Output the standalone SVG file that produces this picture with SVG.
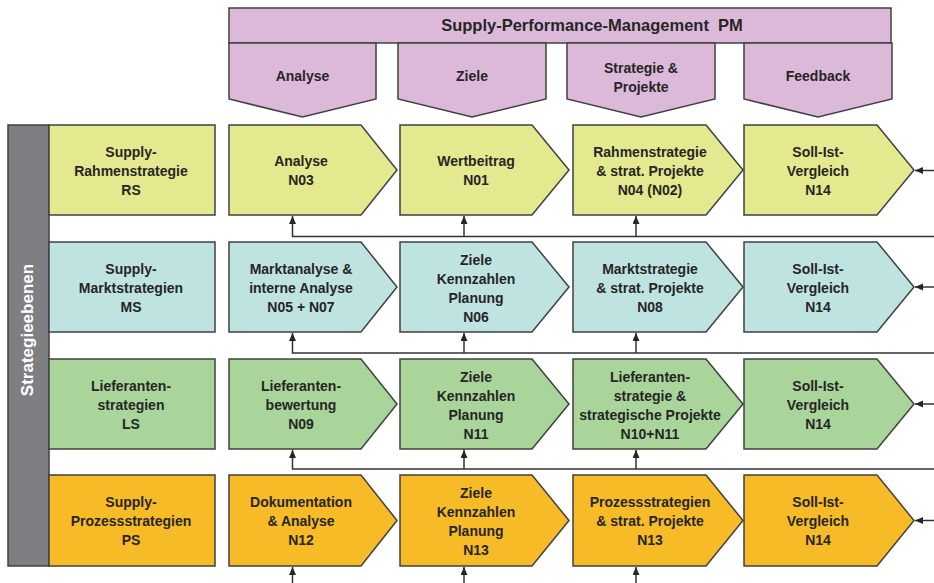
<svg xmlns="http://www.w3.org/2000/svg" width="934" height="583" viewBox="0 0 934 583">
<style>
  text { font-family: "Liberation Sans", Arial, sans-serif; font-weight: bold; font-size: 14px; fill: #262626; text-anchor: middle; }
  .box { stroke: #404040; stroke-width: 1.5; }
  .pm { fill: #DCB9D9; }
  .rs { fill: #E4E98F; }
  .ms { fill: #BFE3E1; }
  .ls { fill: #A9D59A; }
  .ps { fill: #F7BB27; }
  .bar { fill: #7F7F83; }
  .title { font-size: 16.5px; }
  .vert { fill: #FFFFFF; font-size: 17px; }
  .conn { fill: none; stroke: #333333; stroke-width: 1.5; }
</style>
<defs>
  <marker id="ah" markerUnits="userSpaceOnUse" markerWidth="9" markerHeight="8" refX="8" refY="3.5" orient="auto">
    <path d="M0,0 L8,3.5 L0,7 Z" fill="#262626"/>
  </marker>
</defs>

<!-- Header -->
<g id="pm-header">
  <rect class="box pm" x="229" y="8" width="662" height="35"/>
  <text class="title" x="592" y="31" xml:space="preserve">Supply-Performance-Management  PM</text>
</g>
<g id="h-analyse">
  <path class="box pm" d="M229,43 H376 V99 L302.5,117 L229,99 Z"/>
  <text x="302.5" y="81">Analyse</text>
</g>
<g id="h-ziele">
  <path class="box pm" d="M398,43 H546 V99 L472,117 L398,99 Z"/>
  <text x="472" y="81">Ziele</text>
</g>
<g id="h-strategie">
  <path class="box pm" d="M567,43 H715 V99 L641,117 L567,99 Z"/>
  <text x="641" y="73">Strategie &amp;</text>
  <text x="641" y="92">Projekte</text>
</g>
<g id="h-feedback">
  <path class="box pm" d="M744,43 H892 V99 L818,117 L744,99 Z"/>
  <text x="818" y="81">Feedback</text>
</g>

<!-- Side bar -->
<g id="strategieebenen">
  <rect class="box bar" x="8" y="125" width="41" height="441"/>
  <text class="vert" transform="translate(27,330) rotate(-90)" x="0" y="6">Strategieebenen</text>
</g>

<!-- Row 1 -->
<g id="rs-label">
  <rect class="box rs" x="49" y="125" width="166" height="90"/>
  <text x="131" y="157">Supply-</text>
  <text x="131" y="176">Rahmenstrategie</text>
  <text x="131" y="195">RS</text>
</g>
<g id="rs-analyse">
  <path class="box rs" d="M229,125 H361 L397,170 L361,215 H229 Z"/>
  <text x="301" y="166">Analyse</text>
  <text x="301" y="185">N03</text>
</g>
<g id="rs-ziele">
  <path class="box rs" d="M400,125 H532 L569,170 L532,215 H400 Z"/>
  <text x="476" y="166">Wertbeitrag</text>
  <text x="476" y="185">N01</text>
</g>
<g id="rs-strategie">
  <path class="box rs" d="M573,125 H706 L743,170 L706,215 H573 Z"/>
  <text x="650" y="157">Rahmenstrategie</text>
  <text x="650" y="176">&amp; strat. Projekte</text>
  <text x="650" y="195">N04 (N02)</text>
</g>
<g id="rs-feedback">
  <path class="box rs" d="M744,125 H877 L914,170 L877,215 H744 Z"/>
  <text x="818" y="157">Soll-Ist-</text>
  <text x="818" y="176">Vergleich</text>
  <text x="818" y="195">N14</text>
</g>

<!-- Row 2 -->
<g id="ms-label">
  <rect class="box ms" x="49" y="242" width="166" height="90"/>
  <text x="131" y="274">Supply-</text>
  <text x="131" y="293">Marktstrategien</text>
  <text x="131" y="312">MS</text>
</g>
<g id="ms-analyse">
  <path class="box ms" d="M229,242 H361 L397,287 L361,332 H229 Z"/>
  <text x="301" y="274">Marktanalyse &amp;</text>
  <text x="301" y="293">interne Analyse</text>
  <text x="301" y="312">N05 + N07</text>
</g>
<g id="ms-ziele">
  <path class="box ms" d="M400,242 H532 L569,287 L532,332 H400 Z"/>
  <text x="476" y="264.5">Ziele</text>
  <text x="476" y="283.5">Kennzahlen</text>
  <text x="476" y="302.5">Planung</text>
  <text x="476" y="321.5">N06</text>
</g>
<g id="ms-strategie">
  <path class="box ms" d="M573,242 H706 L743,287 L706,332 H573 Z"/>
  <text x="650" y="274">Marktstrategie</text>
  <text x="650" y="293">&amp; strat. Projekte</text>
  <text x="650" y="312">N08</text>
</g>
<g id="ms-feedback">
  <path class="box ms" d="M744,242 H877 L914,287 L877,332 H744 Z"/>
  <text x="818" y="274">Soll-Ist-</text>
  <text x="818" y="293">Vergleich</text>
  <text x="818" y="312">N14</text>
</g>

<!-- Row 3 -->
<g id="ls-label">
  <rect class="box ls" x="49" y="359" width="166" height="90"/>
  <text x="131" y="391">Lieferanten-</text>
  <text x="131" y="410">strategien</text>
  <text x="131" y="429">LS</text>
</g>
<g id="ls-analyse">
  <path class="box ls" d="M229,359 H361 L397,404 L361,449 H229 Z"/>
  <text x="301" y="391">Lieferanten-</text>
  <text x="301" y="410">bewertung</text>
  <text x="301" y="429">N09</text>
</g>
<g id="ls-ziele">
  <path class="box ls" d="M400,359 H532 L569,404 L532,449 H400 Z"/>
  <text x="476" y="381.5">Ziele</text>
  <text x="476" y="400.5">Kennzahlen</text>
  <text x="476" y="419.5">Planung</text>
  <text x="476" y="438.5">N11</text>
</g>
<g id="ls-strategie">
  <path class="box ls" d="M573,359 H706 L743,404 L706,449 H573 Z"/>
  <text x="650" y="381.5">Lieferanten-</text>
  <text x="650" y="400.5">strategie &amp;</text>
  <text x="650" y="419.5">strategische Projekte</text>
  <text x="650" y="438.5">N10+N11</text>
</g>
<g id="ls-feedback">
  <path class="box ls" d="M744,359 H877 L914,404 L877,449 H744 Z"/>
  <text x="818" y="391">Soll-Ist-</text>
  <text x="818" y="410">Vergleich</text>
  <text x="818" y="429">N14</text>
</g>

<!-- Row 4 -->
<g id="ps-label">
  <rect class="box ps" x="49" y="475" width="166" height="91"/>
  <text x="131" y="507">Supply-</text>
  <text x="131" y="526">Prozessstrategien</text>
  <text x="131" y="545">PS</text>
</g>
<g id="ps-analyse">
  <path class="box ps" d="M229,475 H361 L397,520.5 L361,566 H229 Z"/>
  <text x="301" y="507">Dokumentation</text>
  <text x="301" y="526">&amp; Analyse</text>
  <text x="301" y="545">N12</text>
</g>
<g id="ps-ziele">
  <path class="box ps" d="M400,475 H532 L569,520.5 L532,566 H400 Z"/>
  <text x="476" y="497.5">Ziele</text>
  <text x="476" y="516.5">Kennzahlen</text>
  <text x="476" y="535.5">Planung</text>
  <text x="476" y="554.5">N13</text>
</g>
<g id="ps-strategie">
  <path class="box ps" d="M573,475 H706 L743,520.5 L706,566 H573 Z"/>
  <text x="650" y="507">Prozessstrategien</text>
  <text x="650" y="526">&amp; strat. Projekte</text>
  <text x="650" y="545">N13</text>
</g>
<g id="ps-feedback">
  <path class="box ps" d="M744,475 H877 L914,520.5 L877,566 H744 Z"/>
  <text x="818" y="507">Soll-Ist-</text>
  <text x="818" y="526">Vergleich</text>
  <text x="818" y="545">N14</text>
</g>

<!-- Connectors -->
<g id="connectors">
  <polyline class="conn" points="934,236.5 292.5,236.5 292.5,216" marker-end="url(#ah)"/>
  <line class="conn" x1="464" y1="236.5" x2="464" y2="216" marker-end="url(#ah)"/>
  <line class="conn" x1="636" y1="236.5" x2="636" y2="216" marker-end="url(#ah)"/>

  <polyline class="conn" points="934,353 292.5,353 292.5,333" marker-end="url(#ah)"/>
  <line class="conn" x1="464" y1="353" x2="464" y2="333" marker-end="url(#ah)"/>
  <line class="conn" x1="636" y1="353" x2="636" y2="333" marker-end="url(#ah)"/>

  <polyline class="conn" points="934,469 292.5,469 292.5,450" marker-end="url(#ah)"/>
  <line class="conn" x1="464" y1="469" x2="464" y2="450" marker-end="url(#ah)"/>
  <line class="conn" x1="636" y1="469" x2="636" y2="450" marker-end="url(#ah)"/>

  <line class="conn" x1="292.5" y1="583" x2="292.5" y2="567" marker-end="url(#ah)"/>
  <line class="conn" x1="464" y1="583" x2="464" y2="567" marker-end="url(#ah)"/>
  <line class="conn" x1="636" y1="583" x2="636" y2="567" marker-end="url(#ah)"/>

  <line class="conn" x1="934" y1="170.5" x2="915" y2="170.5" marker-end="url(#ah)"/>
  <line class="conn" x1="934" y1="287" x2="915" y2="287" marker-end="url(#ah)"/>
  <line class="conn" x1="934" y1="404" x2="915" y2="404" marker-end="url(#ah)"/>
  <line class="conn" x1="934" y1="520.5" x2="915" y2="520.5" marker-end="url(#ah)"/>
</g>
</svg>
